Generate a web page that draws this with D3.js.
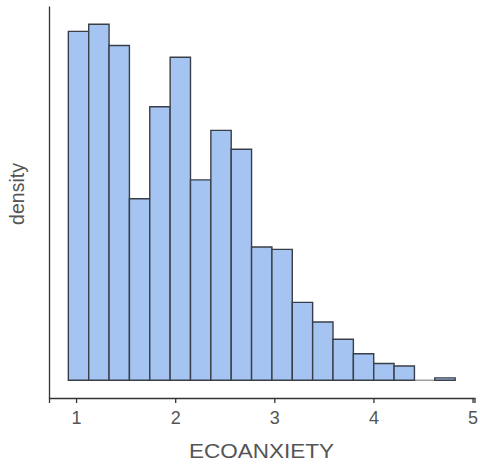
<!DOCTYPE html>
<html>
<head>
<meta charset="utf-8">
<script src="https://cdn.jsdelivr.net/npm/d3@7"></script>
<style>
  body { margin: 0; background: #fff; }
  text { font-family: "Liberation Sans", Arial, sans-serif; }
</style>
</head>
<body>
<div id="chart"></div>
<script>
// histogram bins (ECOANXIETY), left edge of first bin and bin width
const binStart = 0.922;
const binWidth = 0.2054;
// bar heights (density, arbitrary units)
const density = [148, 151, 142, 77, 116, 137, 85, 106, 98, 56.5, 55.5, 33, 24.7, 17.4, 11.2, 7.1, 6, 0, 1];
const xTicks = [1, 2, 3, 4, 5];

function makeChart() {
    let svgWidth = 480;
    let svgHeight = 466;

    let svg = d3.select("#chart")
        .append("svg")
        .attr("width", svgWidth)
        .attr("height", svgHeight);

    let bins = density.map((d, i) => ({
        x0: binStart + i * binWidth,
        x1: binStart + (i + 1) * binWidth,
        v: d
    }));

    let xMin = bins[0].x0, xMax = bins[bins.length - 1].x1;
    let xPad = (xMax - xMin) * 0.05;
    let yMax = d3.max(density);

    let x = d3.scaleLinear()
        .domain([xMin - xPad, xMax + xPad])
        .range([49, 474.5]);

    let y = d3.scaleLinear()
        .domain([-0.05 * yMax, 1.05 * yMax])
        .range([398, 6.5]);

    //bars
    svg.append("g")
        .selectAll("path")
        .data(bins)
        .enter()
        .append("path")
        .attr("d", d => {
            let x0 = x(d.x0), x1 = x(d.x1), y0 = y(0), y1 = y(d.v);
            return `M${x0},${y0}L${x0},${y1}L${x1},${y1}L${x1},${y0}Z`;
        })
        .attr("fill", "#a6c4f1")
        .attr("stroke", "#3a3f47")
        .attr("stroke-width", 1.4)
        .attr("stroke-opacity", d => d.v === 0 ? 0.5 : 1);

    //x axis
    let xAxis = d3.axisBottom(x)
        .tickValues(xTicks)
        .tickFormat(d3.format("d"))
        .tickSizeOuter(0)
        .tickSize(5)
        .tickPadding(8);

    let gx = svg.append("g")
        .attr("transform", `translate(0, 398)`)
        .call(xAxis);
    gx.select(".domain").attr("stroke", "#333").attr("stroke-width", 1.3);
    gx.selectAll(".tick line").attr("stroke", "#333").attr("stroke-width", 1.3);
    gx.selectAll(".tick text")
        .attr("font-size", "18px")
        .attr("fill", "#555")
        .style("font-family", "'Liberation Sans', Arial, sans-serif");

    //y axis line only
    svg.append("line")
        .attr("x1", 49.5).attr("x2", 49.5)
        .attr("y1", y.range()[1]).attr("y2", 398.6)
        .attr("stroke", "#333")
        .attr("stroke-width", 1.3);

    //axis labels
    svg.append("text")
        .attr("x", 261.5)
        .attr("y", 458)
        .attr("text-anchor", "middle")
        .attr("font-size", "20px")
        .attr("fill", "#555")
        .attr("textLength", 145)
        .attr("lengthAdjust", "spacingAndGlyphs")
        .text("ECOANXIETY");

    svg.append("text")
        .attr("transform", "translate(24, 194) rotate(-90)")
        .attr("text-anchor", "middle")
        .attr("font-size", "19.5px")
        .attr("fill", "#555")
        .text("density");
}

makeChart();
</script>
</body>
</html>
